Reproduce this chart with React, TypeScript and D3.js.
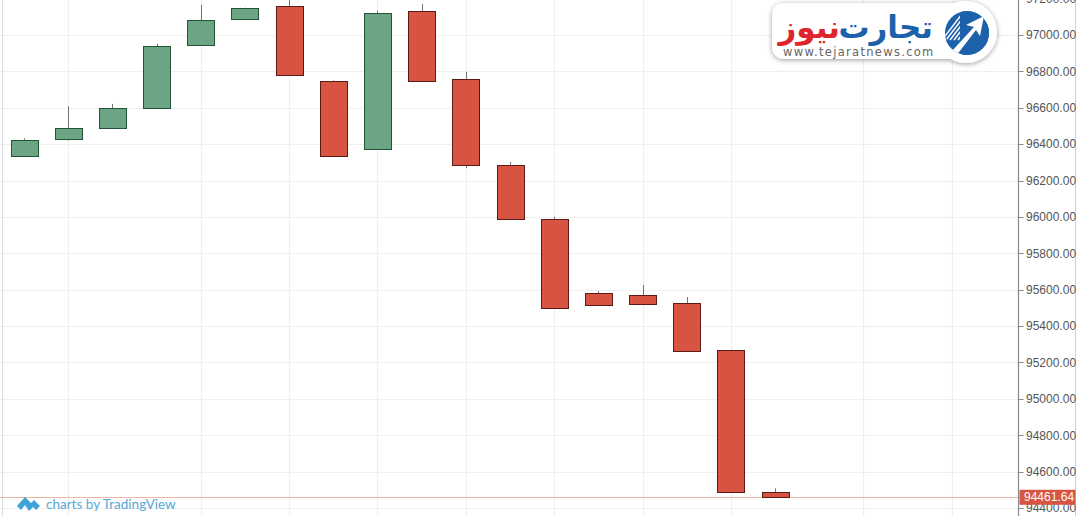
import React, { useEffect, useRef } from "react";
import * as d3 from "d3";

const W = 1078;
const H = 516;

// daily candles (index 0..17)
const opens = [96337, 96428, 96487, 96599, 96947, 97088, 97161, 96747, 96373, 97132, 96758, 96285, 95989, 95582, 95571, 95527, 95268, 94490];
const highs = [96432, 96610, 96621, 96952, 97165, 97150, 97200, 96750, 97135, 97170, 96797, 96302, 96000, 95593, 95626, 95560, 95270, 94508];
const lows = [96335, 96420, 96485, 96597, 96945, 97085, 96775, 96330, 96370, 96745, 96269, 95985, 95497, 95512, 95517, 95260, 94488, 94455];
const closes = [96423, 96489, 96597, 96940, 97082, 97148, 96780, 96335, 97121, 96747, 96285, 95989, 95499, 95516, 95521, 95263, 94490, 94461.64];

const yTicks = [94400, 94600, 94800, 95000, 95200, 95400, 95600, 95800, 96000, 96200, 96400, 96600, 96800, 97000, 97200];
const xGridIdx = [1, 4, 6, 8, 10, 12, 14, 16, 19, 21];
const lastPrice = 94461.64;

export default function App() {
  const ref = useRef<SVGSVGElement>(null);
  useEffect(() => {
    const svg = d3.select(ref.current);
    svg.selectAll("*").remove();
    const x = d3.scaleLinear().domain([-0.5, 22.5]).range([2, 1018]);
    const y = d3.scaleLinear().domain([94400, 97000]).range([508, 35]);
    const axisX = 1018.5;

    svg.append("rect").attr("width", W).attr("height", H).attr("fill", "#fff");

    // grid
    const grid = svg.append("g");
    grid.selectAll("line.h").data(yTicks).enter().append("line")
      .attr("x1", 0).attr("x2", axisX)
      .attr("y1", d => Math.round(y(d)) + 0.5).attr("y2", d => Math.round(y(d)) + 0.5)
      .attr("stroke", "#efefef").attr("stroke-width", 1.2);
    grid.selectAll("line.v").data(xGridIdx).enter().append("line")
      .attr("x1", d => Math.round(x(d)) + 0.5).attr("x2", d => Math.round(x(d)) + 0.5)
      .attr("y1", 0).attr("y2", H)
      .attr("stroke", "#efefef").attr("stroke-width", 1.2);

    // left border
    svg.append("line").attr("x1", 2.5).attr("x2", 2.5).attr("y1", 0).attr("y2", H)
      .attr("stroke", "#d8dde4").attr("stroke-width", 1);

    // price line
    svg.append("line").attr("x1", 0).attr("x2", axisX)
      .attr("y1", Math.round(y(lastPrice)) + 0.5).attr("y2", Math.round(y(lastPrice)) + 0.5)
      .attr("stroke", "#eab5a3").attr("stroke-width", 1);

    // candles
    const idx = d3.range(opens.length);
    const cw = 27;
    const g = svg.append("g");
    g.selectAll("line.wick").data(idx).enter().append("line")
      .attr("x1", i => Math.round(x(i)) + 0.5).attr("x2", i => Math.round(x(i)) + 0.5)
      .attr("y1", i => y(highs[i])).attr("y2", i => y(lows[i]))
      .attr("stroke", "#737375").attr("stroke-width", 1);
    g.selectAll("rect.body").data(idx).enter().append("rect")
      .attr("x", i => Math.round(x(i) - cw / 2) + 0.5)
      .attr("width", cw)
      .attr("y", i => Math.round(y(Math.max(opens[i], closes[i]))) + 0.5)
      .attr("height", i => Math.max(1, Math.round(Math.abs(y(opens[i]) - y(closes[i])))))
      .attr("fill", i => (closes[i] >= opens[i] ? "#6ba583" : "#d75442"))
      .attr("stroke", i => (closes[i] >= opens[i] ? "#225437" : "#5b1a13"))
      .attr("stroke-width", 1);

    // right axis
    svg.append("rect").attr("x", axisX).attr("y", 0).attr("width", W - axisX).attr("height", H).attr("fill", "#fff");
    svg.append("line").attr("x1", axisX).attr("x2", axisX).attr("y1", 0).attr("y2", H)
      .attr("stroke", "#8a8a8a").attr("stroke-width", 1.2);
    svg.append("line").attr("x1", 1075.5).attr("x2", 1075.5).attr("y1", 0).attr("y2", H)
      .attr("stroke", "#d0d0d0").attr("stroke-width", 1);
    const ax = svg.append("g");
    ax.selectAll("line").data(yTicks).enter().append("line")
      .attr("x1", axisX).attr("x2", axisX + 5)
      .attr("y1", d => Math.round(y(d)) + 0.5).attr("y2", d => Math.round(y(d)) + 0.5)
      .attr("stroke", "#8a8a8a");
    ax.selectAll("text").data(yTicks).enter().append("text")
      .attr("x", 1026).attr("y", d => y(d)).attr("dy", "0.36em")
      .attr("font-family", "Liberation Sans, Arial, sans-serif").attr("font-size", 12)
      .attr("fill", "#555").text(d => d3.format(".2f")(d));

    // last price label
    const ly = y(lastPrice);
    svg.append("rect").attr("x", axisX + 1).attr("y", ly - 7).attr("width", 56).attr("height", 15)
      .attr("fill", "#d75442");
    svg.append("text").attr("x", 1024).attr("y", ly).attr("dy", "0.38em")
      .attr("font-family", "Liberation Sans, Arial, sans-serif").attr("font-size", 12)
      .attr("fill", "#fff").text(d3.format(".2f")(lastPrice));

    // TradingView watermark
    const tv = svg.append("g");
    tv.append("path")
      .attr("d", "M17,506 L25,497 L31,503 L34,500 L40,506 L36,510 L33,507 L29,511 L25,505 L21,510 Z")
      .attr("fill", "#3fa2d8");
    tv.append("text").attr("x", 46).attr("y", 509)
      .attr("font-family", "Lato, 'Open Sans', sans-serif").attr("font-size", 13.5)
      .attr("fill", "#57a8d5").text("charts by TradingView");

    // logo
    const defs = svg.append("defs");
    const f = defs.append("filter").attr("id", "sh").attr("x", "-20%").attr("y", "-30%").attr("width", "140%").attr("height", "160%");
    f.append("feDropShadow").attr("dx", 0).attr("dy", 1).attr("stdDeviation", 2.5).attr("flood-color", "#000").attr("flood-opacity", 0.4);
    defs.append("clipPath").attr("id", "cc").append("circle").attr("cx", 967).attr("cy", 33).attr("r", 22);

    const logo = svg.append("g");
    const bg = logo.append("g").attr("filter", "url(#sh)");
    bg.append("rect").attr("x", 772).attr("y", 3).attr("width", 200).attr("height", 56).attr("rx", 12).attr("fill", "#fff");
    bg.append("circle").attr("cx", 966).attr("cy", 32).attr("r", 31).attr("fill", "#fff");
    logo.append("rect").attr("x", 930).attr("y", 6).attr("width", 40).attr("height", 50).attr("fill", "#fff");
    logo.append("circle").attr("cx", 967).attr("cy", 33).attr("r", 22).attr("fill", "#1d61ab");
    const st = logo.append("g").attr("clip-path", "url(#cc)");
    d3.range(7).forEach(k => {
      st.append("line").attr("x1", 942 + k * 4).attr("y1", 40).attr("x2", 962 + k * 4).attr("y2", 14)
        .attr("stroke", "#fff").attr("stroke-width", 1.4);
    });
    st.append("rect").attr("x", 960).attr("y", 9).attr("width", 35).attr("height", 50).attr("fill", "#1d61ab");
    st.append("polygon").attr("points", "951,52 974,27 966,25 984,16 980,36 976,30 956,56").attr("fill", "#fff");
    st.append("polygon").attr("points", "940,30 952,46 947,50").attr("fill", "#1d61ab");

    logo.append("text").attr("x", 933).attr("y", 38).attr("text-anchor", "start").attr("direction", "rtl")
      .attr("font-family", "DejaVu Sans, sans-serif").attr("font-weight", "bold").attr("font-size", 31)
      .attr("fill", "#1d61ab").text("تجارت");
    logo.append("text").attr("x", 840).attr("y", 38).attr("text-anchor", "start").attr("direction", "rtl")
      .attr("font-family", "DejaVu Sans, sans-serif").attr("font-weight", "bold").attr("font-size", 31)
      .attr("fill", "#e0242b").text("نیوز");
    logo.append("text").attr("x", 783).attr("y", 56)
      .attr("font-family", "DejaVu Sans, sans-serif").attr("font-size", 11.5)
      .attr("letter-spacing", 1.3).attr("fill", "#666").text("www.tejaratnews.com");
  }, []);
  return <svg ref={ref} width={W} height={H} style={{ position: "absolute", left: 0, top: 0, display: "block" }} />;
}
